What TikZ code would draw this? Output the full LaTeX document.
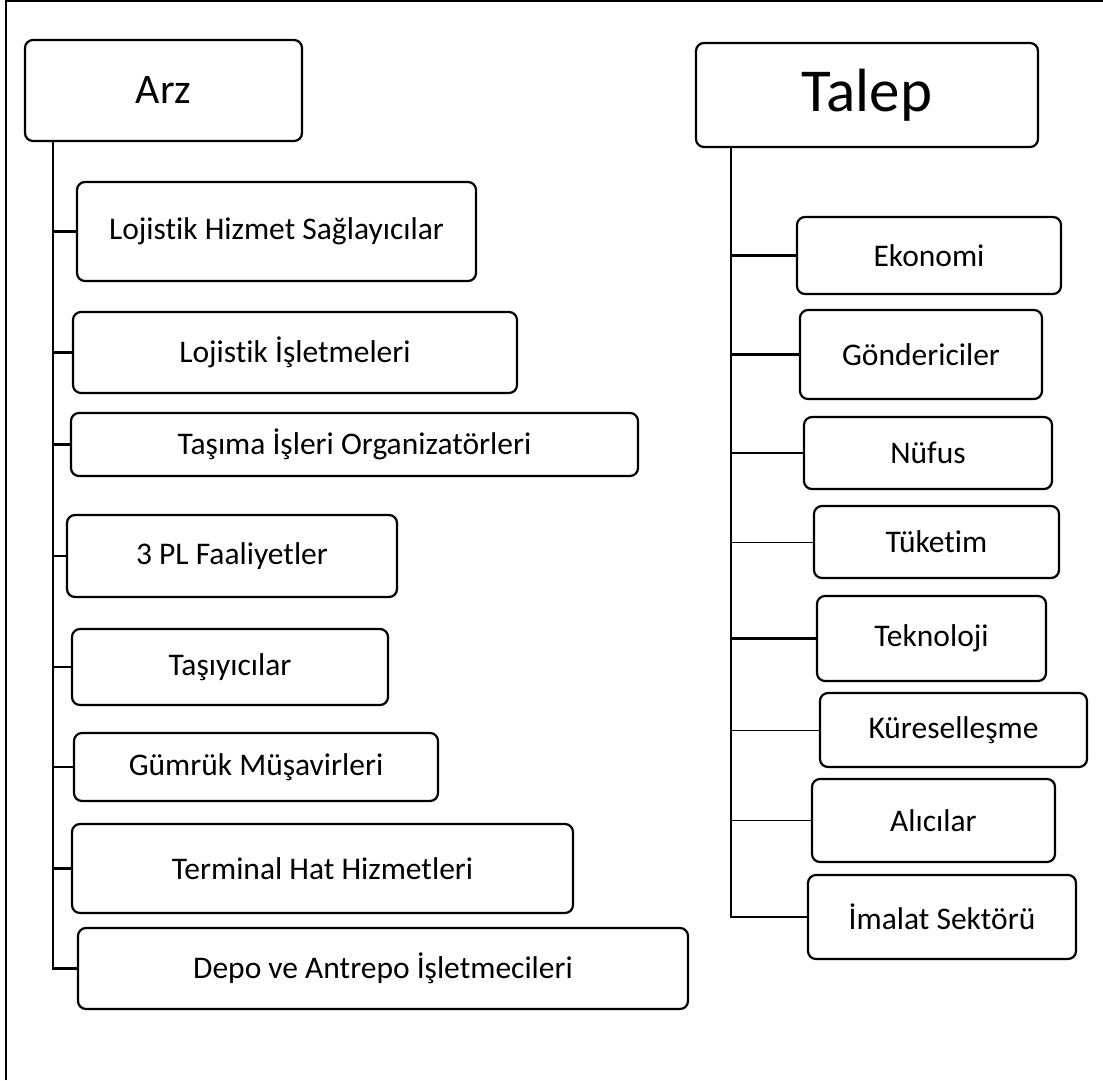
\documentclass[tikz,border=0pt]{standalone}
\usepackage{fontspec}
\setmainfont{Carlito}[Ligatures=NoCommon]
\begin{document}
\begin{tikzpicture}[x=1pt,y=-1pt,
  box/.style={draw, line width=2.2pt, rounded corners=8pt, inner sep=0pt, fill=white,
    font=\fontsize{31.5}{37}\selectfont},
  conn/.style={line width=2.2pt},
  thinconn/.style={line width=0.9pt}]
\useasboundingbox (0,0) rectangle (1103,1080);
\draw[line width=1.5pt] (6,1080) -- (6,1) -- (1103,1);
% head boxes
\node[box, minimum width=277pt, minimum height=101pt, font=\fontsize{42}{48}\selectfont] (arz) at (163.5,90.5) {Arz};
\node[box, minimum width=342pt, minimum height=104pt, font=\fontsize{61}{68}\selectfont] (talep) at (867,95) {Talep};
% left column
\node[box, minimum width=399pt, minimum height=99pt] (lhs) at (276.5,231.5) {Lojistik Hizmet Sağlayıcılar};
\node[box, minimum width=444pt, minimum height=81pt] (lis) at (295,352.5) {Lojistik İşletmeleri};
\node[box, minimum width=567pt, minimum height=63pt] (tio) at (354.5,444.5) {Taşıma İşleri Organizatörleri};
\node[box, minimum width=330pt, minimum height=82pt] (tpl) at (232,556) {3 PL Faaliyetler};
\node[box, minimum width=316pt, minimum height=76pt] (tas) at (230,667) {Taşıyıcılar};
\node[box, minimum width=364pt, minimum height=68pt] (gum) at (256,767) {Gümrük Müşavirleri};
\node[box, minimum width=501pt, minimum height=89pt] (ter) at (322.5,868.5) {Terminal Hat Hizmetleri};
\node[box, minimum width=610pt, minimum height=81pt] (dep) at (383,968.5) {Depo ve Antrepo İşletmecileri};
% right column
\node[box, minimum width=264pt, minimum height=77pt] (eko) at (929,255.5) {Ekonomi};
\node[box, minimum width=242pt, minimum height=89pt] (gon) at (921,354.5) {Göndericiler};
\node[box, minimum width=248pt, minimum height=72pt] (nuf) at (928,453) {Nüfus};
\node[box, minimum width=245pt, minimum height=72pt] (tuk) at (936.5,542) {Tüketim};
\node[box, minimum width=229pt, minimum height=85pt] (tek) at (931.5,638.5) {Teknoloji};
\node[box, minimum width=267pt, minimum height=74pt] (kur) at (953.5,730) {Küreselleşme};
\node[box, minimum width=243pt, minimum height=83pt] (ali) at (933.5,820.5) {Alıcılar};
\node[box, minimum width=268pt, minimum height=84pt] (ima) at (942,917) {İmalat Sektörü};
% trunks
\coordinate (atr) at (53,0);
\coordinate (ttr) at (731,0);
\draw[conn] (arz.south -| atr) |- (dep.west);
\draw[conn] (talep.south -| ttr) |- (ima.west);
% left branches
\foreach \n in {lhs,lis,tio,tpl,tas,gum,ter}
  \draw[conn] (\n.west -| atr) -- (\n.west);
% right branches
\foreach \n in {eko,gon,nuf,tek}
  \draw[conn] (\n.west -| ttr) -- (\n.west);
\foreach \n in {tuk,kur,ali}
  \draw[thinconn] (\n.west -| ttr) -- (\n.west);
\end{tikzpicture}
\end{document}
